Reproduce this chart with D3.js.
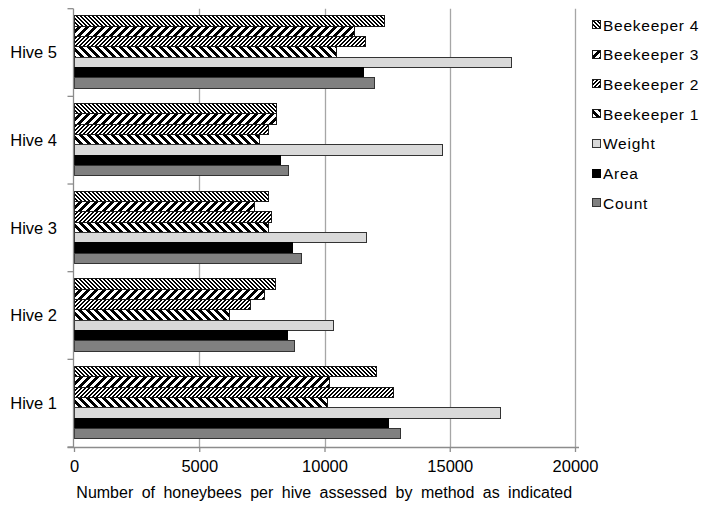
<!DOCTYPE html>
<html><head><meta charset="utf-8">
<script src="https://cdn.jsdelivr.net/npm/d3@7"></script>
<style>body{margin:0;background:#fff}svg{display:block;font-family:"Liberation Sans",Arial,sans-serif}</style>
</head><body><svg id="c" width="704" height="506"></svg>
<script>
const hives = ["Hive 1","Hive 2","Hive 3","Hive 4","Hive 5"];
const seriesNames = ["Beekeeper 4","Beekeeper 3","Beekeeper 2","Beekeeper 1","Weight","Area","Count"];
const count  = [13030, 8810, 9080, 8550, 11980];
const area   = [12570, 8510, 8710, 8255, 11540];
const weight = [17030, 10370, 11670, 14730, 17450];
const bk1    = [10100, 6220, 7780, 7420, 10480];
const bk2    = [12760, 7050, 7870, 7780, 11630];
const bk3    = [10210, 7620, 7190, 8080, 11200];
const bk4    = [12080, 8040, 7780, 8080, 12400];
const xTicks = [0, 5000, 10000, 15000, 20000];
const xTitle = "Number of honeybees per hive assessed by method as indicated";

const valuesBySeries = {"Beekeeper 4":bk4,"Beekeeper 3":bk3,"Beekeeper 2":bk2,"Beekeeper 1":bk1,"Weight":weight,"Area":area,"Count":count};

const svg = d3.select("#c");
const pLeft = 73.5, pRight = 575, pTop = 8.7, pBottom = 447;

// patterns
const defs = svg.append("defs");
function makePattern(id, period, width, dir){
  const p = defs.append("pattern").attr("id", id).attr("patternUnits","userSpaceOnUse")
    .attr("width", period).attr("height", period);
  p.append("rect").attr("width",period).attr("height",period).attr("fill","#fff");
  for(let r=0;r<period;r++){
    for(let c=0;c<period;c++){
      const k = dir==="dn" ? ((c - r)%period+period)%period : ((c + r)%period);
      if(k < width) p.append("rect").attr("x",c).attr("y",r).attr("width",1).attr("height",1).attr("fill","#000");
    }
  }
}
makePattern("pBK4", 4, 2, "dn");
makePattern("pBK3", 8, 4, "up");
makePattern("pBK2", 4, 2, "up");
makePattern("pBK1", 8, 4, "dn");

const style = {
  "Beekeeper 4": {fill:"url(#pBK4)", stroke:"#1a1a1a"},
  "Beekeeper 3": {fill:"url(#pBK3)", stroke:"#1a1a1a"},
  "Beekeeper 2": {fill:"url(#pBK2)", stroke:"#1a1a1a"},
  "Beekeeper 1": {fill:"url(#pBK1)", stroke:"#1a1a1a"},
  "Weight": {fill:"#d9d9d9", stroke:"#333"},
  "Area": {fill:"#000", stroke:"#000"},
  "Count": {fill:"#808080", stroke:"#333"}
};

const x = d3.scaleLinear().domain([0,20000]).range([pLeft+0.5, pRight]);
const y0 = d3.scaleBand().domain(hives.slice().reverse()).range([pTop, pBottom]).padding(0);
const bw = y0.bandwidth();
const y1 = d3.scaleBand().domain(seriesNames).range([bw*0.083, bw*0.908]).padding(0);

// gridlines
svg.append("g").selectAll("line").data(xTicks.slice(1)).join("line")
  .attr("x1", d=>Math.round(x(d))+0.5).attr("x2", d=>Math.round(x(d))+0.5)
  .attr("y1", pTop).attr("y2", pBottom).attr("stroke","#a6a6a6").attr("stroke-width",1.3);

// bars
const g = svg.append("g").attr("shape-rendering","crispEdges");
hives.forEach((h,i)=>{
  seriesNames.forEach(s=>{
    const v = valuesBySeries[s][i];
    g.append("rect")
      .attr("x", x(0))
      .attr("y", y0(h)+y1(s))
      .attr("width", x(v)-x(0))
      .attr("height", y1.bandwidth())
      .attr("fill", style[s].fill)
      .attr("stroke", style[s].stroke)
      .attr("stroke-width", 1);
  });
});

// x axis
const xAxis = svg.append("g").attr("transform",`translate(0,${pBottom})`)
  .call(d3.axisBottom(x).tickValues(xTicks).tickFormat(d3.format("d")).tickSize(5).tickPadding(8));
xAxis.select(".domain").attr("stroke","#8c8c8c").attr("stroke-width",1.3).attr("d",`M${pLeft-6},0.5H${pRight+4}`);
xAxis.selectAll(".tick line").attr("stroke","#8c8c8c").attr("stroke-width",1.3);
xAxis.selectAll(".tick text").attr("font-size",16.5).attr("fill","#000").attr("font-family","Liberation Sans, Arial, sans-serif");

// y axis
const yAxisG = svg.append("g");
yAxisG.append("line").attr("x1",pLeft).attr("x2",pLeft).attr("y1",pTop).attr("y2",pBottom)
  .attr("stroke","#8c8c8c").attr("stroke-width",1.3);
const boundaries = hives.map(h=>y0(h)).concat([pBottom]);
yAxisG.selectAll("line.tk").data(boundaries).join("line").attr("class","tk")
  .attr("x1",pLeft-6).attr("x2",pLeft).attr("y1",d=>d).attr("y2",d=>d)
  .attr("stroke","#8c8c8c").attr("stroke-width",1.3);
yAxisG.selectAll("text").data(hives).join("text")
  .attr("x", 57).attr("y", d=>y0(d)+bw/2).attr("dy","0.36em")
  .attr("text-anchor","end").attr("font-size",16.5).attr("fill","#000").text(d=>d);

// x title
svg.append("text").attr("x",(pLeft+pRight)/2).attr("y",498).attr("text-anchor","middle")
  .attr("font-size",16).attr("word-spacing","4px").attr("fill","#000").text(xTitle);

// legend
const lg = svg.append("g");
seriesNames.forEach((s,i)=>{
  const cy = 25 + i*29.7;
  lg.append("rect").attr("x",592.5).attr("y",cy-4.5).attr("width",8).attr("height",8)
    .attr("fill",style[s].fill).attr("stroke",style[s].stroke).attr("stroke-width",1)
    .attr("shape-rendering","crispEdges");
  lg.append("text").attr("x",603).attr("y",cy).attr("dy","0.36em").attr("font-size",15.5)
    .attr("letter-spacing","0.75px").attr("fill","#000").text(s);
});
</script></body></html>
